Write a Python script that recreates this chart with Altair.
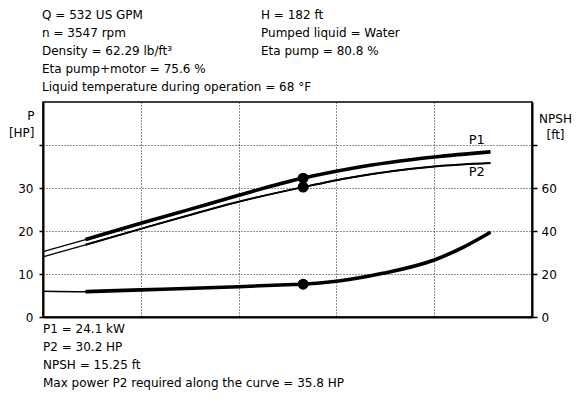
import altair as alt
import pandas as pd

# ---------------- data ----------------
q_power = [0, 87, 200, 293, 400, 532, 633, 800, 915]          # flow, US GPM
p1_hp = [15.2, 18.0, 21.8, 24.8, 28.3, 32.3, 34.6, 37.2, 38.4]  # P1 [HP]
p2_hp = [14.0, 16.8, 20.5, 23.5, 26.8, 30.2, 32.5, 35.0, 35.8]  # P2 [HP]

q_npsh = [0, 87, 200, 400, 499, 532, 600, 695, 800, 860, 915]
npsh_ft = [12.0, 11.8, 12.6, 14.1, 15.0, 15.25, 16.6, 20.3, 26.5, 32.5, 39.4]

q_min_allowed = 87          # start of thick (allowed) part of curves
q_duty = 532
duty_p1 = 32.3
duty_p2 = 30.2
duty_npsh = 15.25

curve_labels = ["P1", "P2"]
label_q = [887, 887]
label_p = [41.2, 33.7]

info_left = ["Q = 532 US GPM", "n = 3547 rpm", "Density = 62.29 lb/ft³",
             "Eta pump+motor = 75.6 %", "Liquid temperature during operation = 68 °F"]
info_right = ["H = 182 ft", "Pumped liquid = Water", "Eta pump = 80.8 %"]
result_lines = ["P1 = 24.1 kW", "P2 = 30.2 HP", "NPSH = 15.25 ft",
                "Max power P2 required along the curve = 35.8 HP"]

p_ticks = [0, 10, 20, 30, 40]
npsh_ticks = [0, 20, 40, 60, 80]
q_grid = [200, 400, 600, 800]

FONT = "DejaVu Sans"
W, H = 489, 215

# ---------------- tables ----------------
power = pd.DataFrame({
    "Q": q_power * 2,
    "P": p1_hp + p2_hp,
    "series": ["P1"] * len(q_power) + ["P2"] * len(q_power),
})
npsh = pd.DataFrame({"Q": q_npsh, "NPSH": npsh_ft})
duty_p = pd.DataFrame({"Q": [q_duty, q_duty], "P": [duty_p1, duty_p2]})
duty_n = pd.DataFrame({"Q": [q_duty], "NPSH": [duty_npsh]})
labels = pd.DataFrame({"Q": label_q, "P": label_p, "t": curve_labels})
one = pd.DataFrame({"a": [0]})

x_enc = alt.X("Q:Q", scale=alt.Scale(domain=[0, 1000], nice=False),
              axis=alt.Axis(values=q_grid, labels=False, ticks=False, title=None,
                            grid=True, gridDash=[1, 2], gridColor="#222", gridWidth=1,
                            domainColor="black", domainWidth=2))

y_p = alt.Y("P:Q", scale=alt.Scale(domain=[0, 50], nice=False),
            axis=alt.Axis(values=p_ticks,
                          labelExpr="datum.value >= 40 ? '' : datum.label",
                          grid=True, gridDash=[1, 2], gridColor="#222", gridWidth=1,
                          domainColor="black", domainWidth=2,
                          tickColor="black", tickSize=4, tickWidth=1.5,
                          labelPadding=6, labelFont=FONT, labelFontSize=12,
                          labelColor="black",
                          title=["P", "[HP]"], titleAngle=0, titleAlign="right",
                          titleBaseline="middle", titleX=-9, titleY=13,
                          titleLineHeight=17, titleFont=FONT, titleFontSize=12,
                          titleFontWeight="normal", titleColor="black"))

y_n = alt.Y("NPSH:Q", scale=alt.Scale(domain=[0, 100], nice=False),
            axis=alt.Axis(orient="right", values=npsh_ticks,
                          labelExpr="datum.value >= 80 ? '' : datum.label",
                          grid=False, domainColor="black", domainWidth=2,
                          tickColor="black", tickSize=5, tickWidth=1.5,
                          labelPadding=4, labelFont=FONT, labelFontSize=12,
                          labelColor="black",
                          title=["NPSH", "[ft]"], titleAngle=0, titleAlign="center",
                          titleBaseline="middle", titleX=23, titleY=16,
                          titleLineHeight=16, titleFont=FONT, titleFontSize=12,
                          titleFontWeight="normal", titleColor="black"))

thin_p = alt.Chart(power).mark_line(color="black", strokeWidth=1.3, interpolate="monotone").encode(
    x=x_enc, y=y_p, detail="series:N")
thick_p1 = alt.Chart(power).transform_filter(
    (alt.datum.series == "P1") & (alt.datum.Q >= q_min_allowed)
).mark_line(color="black", strokeWidth=3.6, interpolate="monotone").encode(x=x_enc, y=y_p)
main_p2 = alt.Chart(power).transform_filter(
    (alt.datum.series == "P2") & (alt.datum.Q >= q_min_allowed)
).mark_line(color="black", strokeWidth=2, interpolate="monotone").encode(x=x_enc, y=y_p)
dots_p = alt.Chart(duty_p).mark_circle(color="black", opacity=1, size=120).encode(x=x_enc, y=y_p)
lbl = alt.Chart(labels).mark_text(font=FONT, fontSize=13, color="black").encode(
    x=x_enc, y=y_p, text="t:N")

txt_left = alt.Chart(one).mark_text(
    font=FONT, fontSize=12, color="black", align="left", baseline="top",
    lineBreak="\n", lineHeight=18, x=-1, y=-92,
).encode(text=alt.value("\n".join(info_left)))
txt_right = alt.Chart(one).mark_text(
    font=FONT, fontSize=12, color="black", align="left", baseline="top",
    lineBreak="\n", lineHeight=18, x=218, y=-92,
).encode(text=alt.value("\n".join(info_right)))
txt_bottom = alt.Chart(one).mark_text(
    font=FONT, fontSize=12, color="black", align="left", baseline="top",
    lineBreak="\n", lineHeight=18, x=0, y=222,
).encode(text=alt.value("\n".join(result_lines)))

left = alt.layer(thin_p, thick_p1, main_p2, dots_p, lbl, txt_left, txt_right, txt_bottom)

thin_n = alt.Chart(npsh).mark_line(color="black", strokeWidth=1.5, interpolate="monotone").encode(
    x=x_enc, y=y_n)
thick_n = alt.Chart(npsh).transform_filter(alt.datum.Q >= q_min_allowed).mark_line(
    color="black", strokeWidth=3.6, interpolate="monotone").encode(x=x_enc, y=y_n)
dot_n = alt.Chart(duty_n).mark_circle(color="black", opacity=1, size=120).encode(x=x_enc, y=y_n)

right = alt.layer(thin_n, thick_n, dot_n)

chart = alt.layer(left, right).resolve_scale(y="independent").properties(
    width=W, height=H,
    autosize=alt.AutoSizeParams(type="none"),
    padding={"left": 35, "top": 94, "right": 41, "bottom": 77},
    background="white",
).configure_view(stroke="black", strokeWidth=1.5)

chart.save("out.html", embed_options={"renderer": "svg", "actions": False})
